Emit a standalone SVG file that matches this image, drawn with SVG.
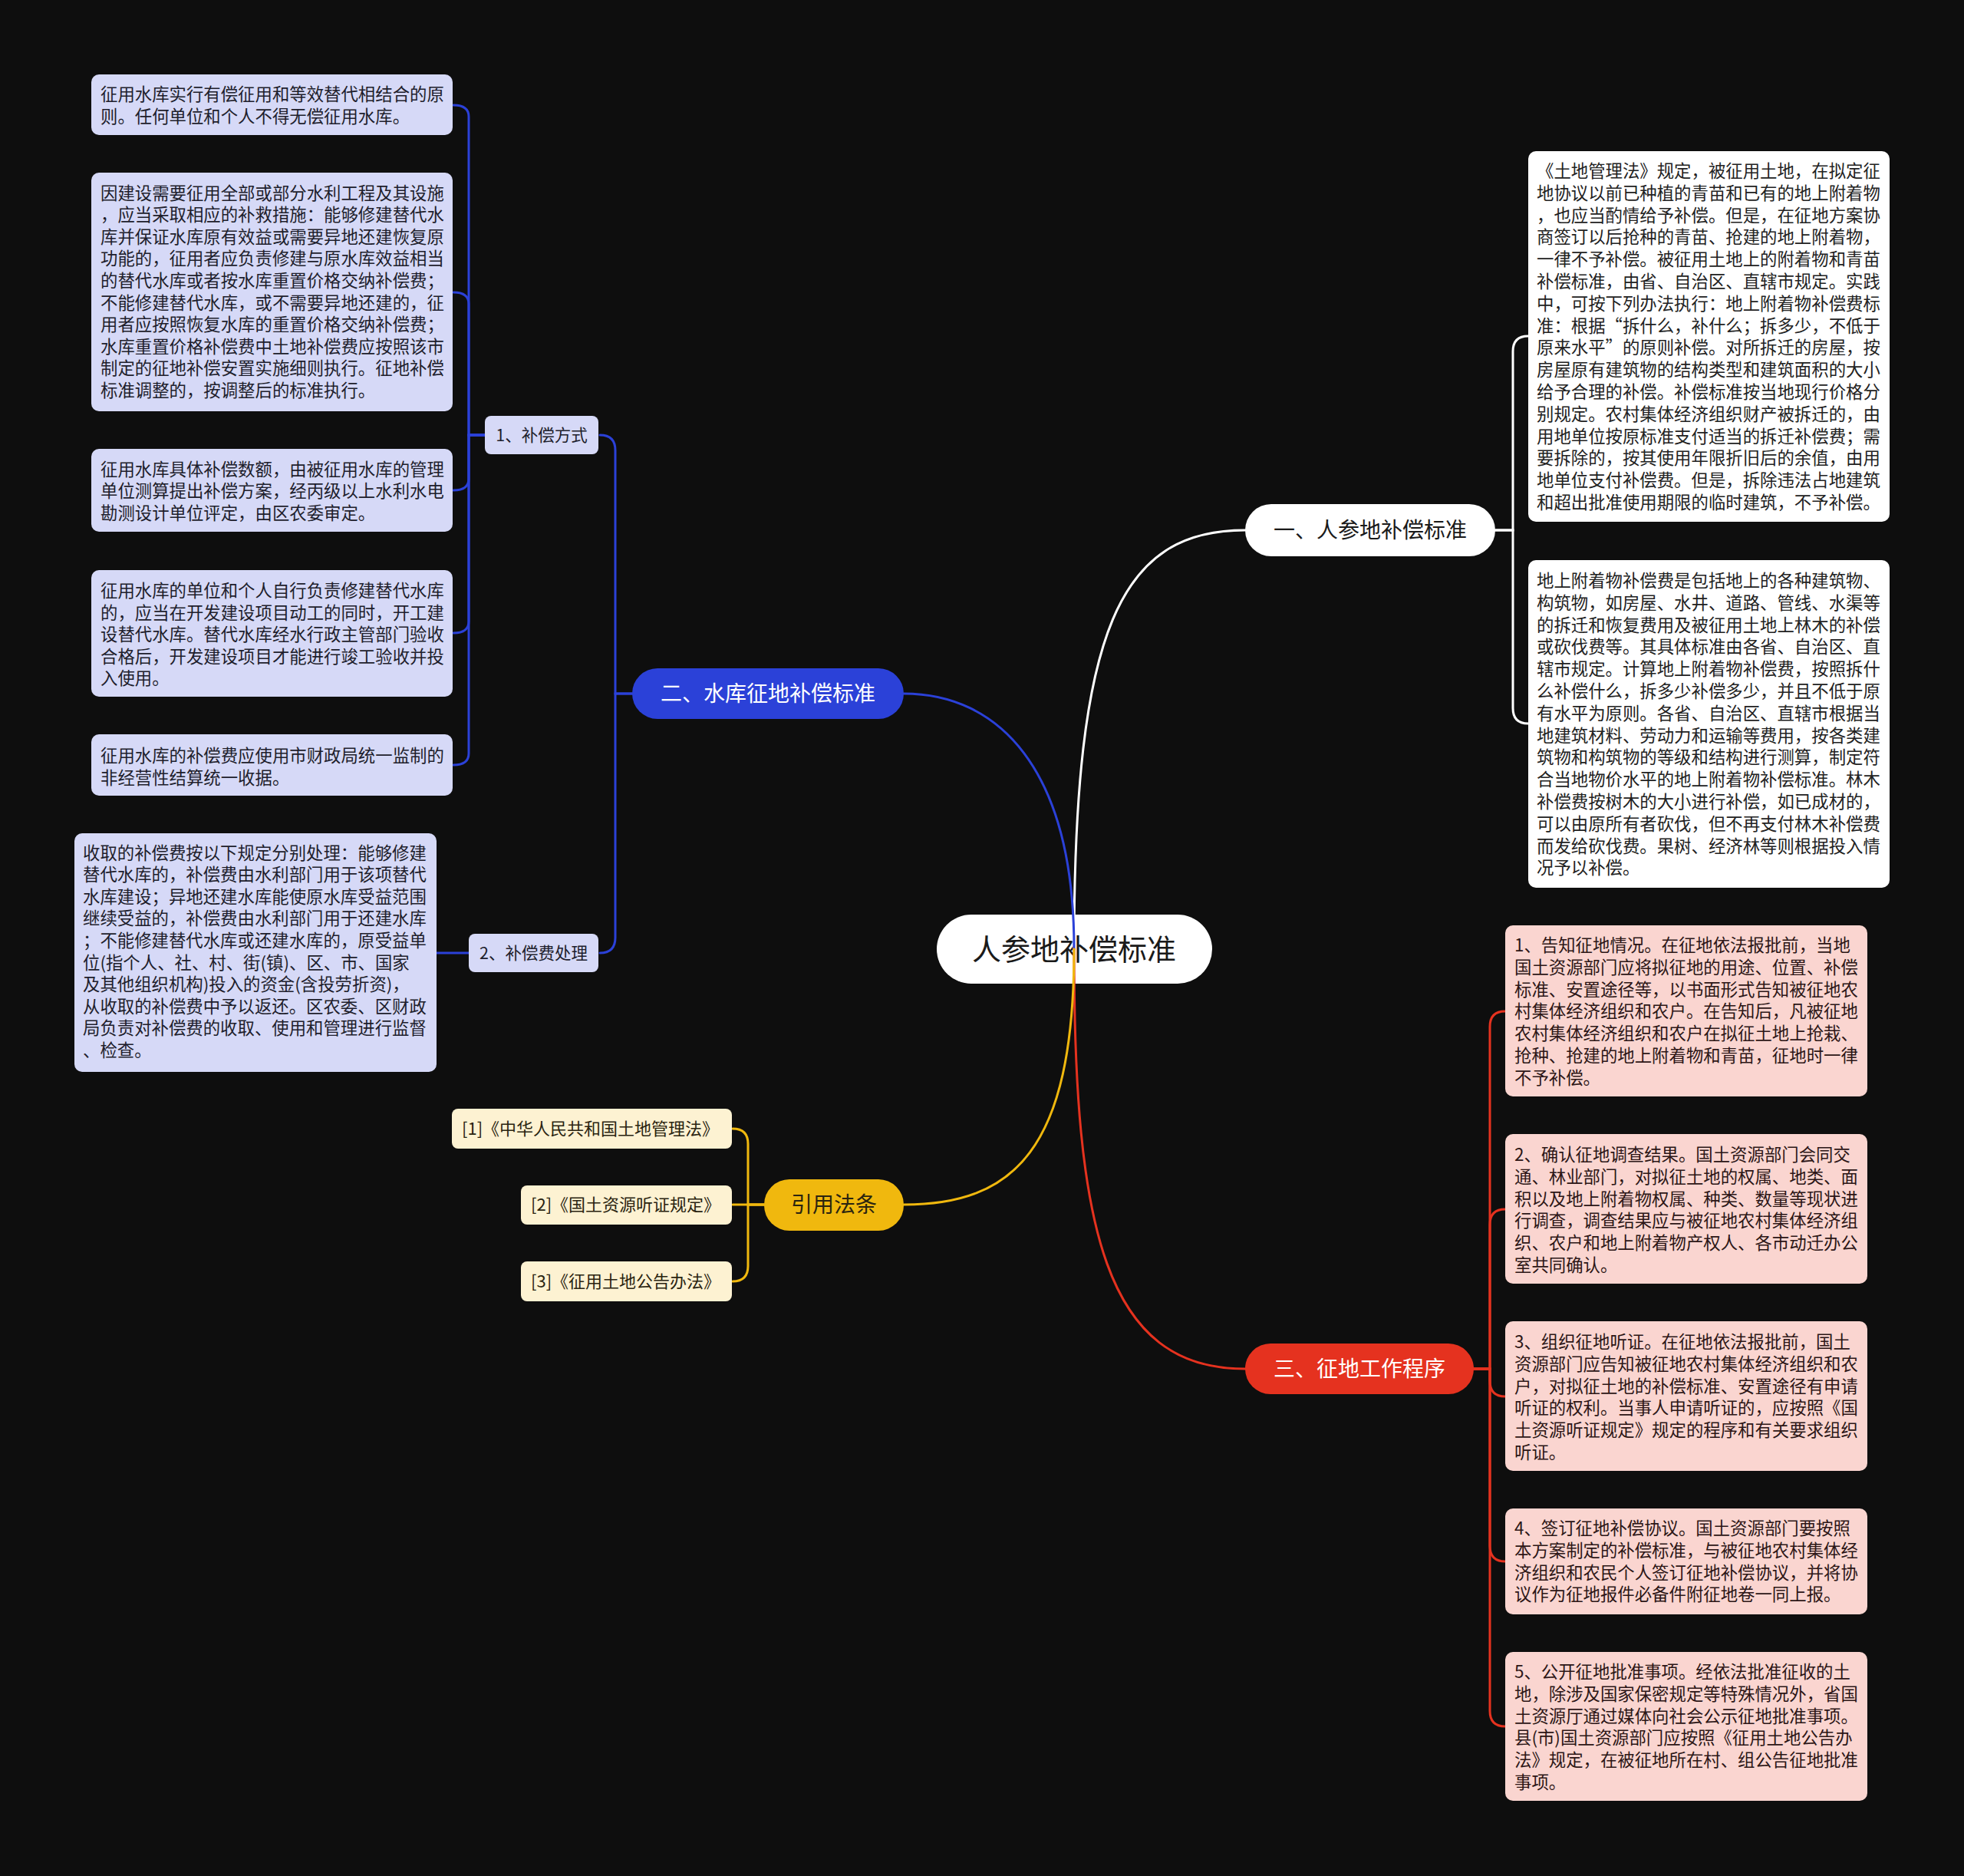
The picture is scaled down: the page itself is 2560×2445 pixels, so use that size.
<svg xmlns="http://www.w3.org/2000/svg" width="2560" height="2445" viewBox="0 0 2560 2445">
<style>
text{font-family:"Noto Sans CJK SC","Noto Sans",sans-serif}
.t{font-size:22.4px}
.lav{fill:#d6d9f7}
.pink{fill:#fad5d0}
.wbox{fill:#ffffff}
.cream{fill:#fdf2d2}
.tl{fill:#1e1e2c}
.tp{fill:#2c1616}
.tw{fill:#222222}
.tc{fill:#2a2410}
.conn{fill:none;stroke-width:3;stroke-linecap:round}
.cw{stroke:#ffffff}
.cb{stroke:#2b41d8}
.cr{stroke:#e5321f}
.cy{stroke:#f0b80e}
.main{font-size:28px;text-anchor:middle}
.sub{font-size:21.5px;text-anchor:middle}
</style>
<rect x="0" y="0" width="2560" height="2445" fill="#0e0e0e"/>

<g id="center">
<rect x="1221" y="1192" width="359" height="90" rx="45" fill="#ffffff"/>
<text x="1400" y="1251" font-size="38" text-anchor="middle" fill="#1a1a1a">人参地补偿标准</text>
</g>

<g id="connectors">
<path class="conn cw" d="M1400,1237 C1400,820 1460,691 1623,691"/>
<path class="conn cb" d="M1400,1237 C1400,1000 1300,904 1178,904"/>
<path class="conn cr" d="M1400,1237 C1400,1600 1440,1784 1623,1784"/>
<path class="conn cy" d="M1400,1237 C1400,1500 1320,1570 1178,1570"/>
<path class="conn cw" d="M1949,691 H1972 V458 Q1972,438 1992,438"/>
<path class="conn cw" d="M1949,691 H1972 V923 Q1972,943 1992,943"/>
<path class="conn cb" d="M824,904 H802 V587 Q802,567 782,567"/>
<path class="conn cb" d="M824,904 H802 V1222 Q802,1242 782,1242"/>
<path class="conn cb" d="M632,567 H611 V152 Q611,137 591,137"/>
<path class="conn cb" d="M632,567 H611 V396 Q611,381 591,381"/>
<path class="conn cb" d="M632,567 H611 V624 Q611,639 591,639"/>
<path class="conn cb" d="M632,567 H611 V810 Q611,825 591,825"/>
<path class="conn cb" d="M632,567 H611 V982 Q611,997 591,997"/>
<path class="conn cb" d="M569,1242 H611"/>
<path class="conn cr" d="M1921,1784 H1942 V1338 Q1942,1318 1962,1318"/>
<path class="conn cr" d="M1921,1784 H1942 V1596 Q1942,1576 1962,1576"/>
<path class="conn cr" d="M1921,1784 H1942 V1800 Q1942,1820 1962,1820"/>
<path class="conn cr" d="M1921,1784 H1942 V2015 Q1942,2035 1962,2035"/>
<path class="conn cr" d="M1921,1784 H1942 V2230 Q1942,2250 1962,2250"/>
<path class="conn cy" d="M996,1570 H975 V1491 Q975,1471 955,1471"/>
<path class="conn cy" d="M996,1570 H955"/>
<path class="conn cy" d="M996,1570 H975 V1650 Q975,1670 955,1670"/>
</g>

<g id="b1">
<rect x="1623" y="657" width="326" height="68" rx="34" fill="#ffffff"/>
<text class="main" x="1786" y="701" fill="#1a1a1a">一、人参地补偿标准</text>
</g>
<g id="b2">
<rect x="824" y="871" width="354" height="66" rx="33" fill="#2b41d8"/>
<text class="main" x="1001" y="914" fill="#ffffff">二、水库征地补偿标准</text>
</g>
<g id="b3">
<rect x="1623" y="1751" width="298" height="66" rx="33" fill="#e5321f"/>
<text class="main" x="1772" y="1794" fill="#ffffff">三、征地工作程序</text>
</g>
<g id="b4">
<rect x="996" y="1537" width="182" height="67" rx="33" fill="#f0b80e"/>
<text class="main" x="1087" y="1580" fill="#2a2410">引用法条</text>
</g>

<g id="b1-1">
<rect class="wbox" x="1992" y="197" width="471" height="483" rx="10"/>
<text class="t tw" x="2003" y="231"><tspan x="2003">《土地管理法》规定，被征用土地，在拟定征</tspan><tspan x="2003" dy="28.8">地协议以前已种植的青苗和已有的地上附着物</tspan><tspan x="2003" dy="28.8">，也应当酌情给予补偿。但是，在征地方案协</tspan><tspan x="2003" dy="28.8">商签订以后抢种的青苗、抢建的地上附着物，</tspan><tspan x="2003" dy="28.8">一律不予补偿。被征用土地上的附着物和青苗</tspan><tspan x="2003" dy="28.8">补偿标准，由省、自治区、直辖市规定。实践</tspan><tspan x="2003" dy="28.8">中，可按下列办法执行：地上附着物补偿费标</tspan><tspan x="2003" dy="28.8">准：根据“拆什么，补什么；拆多少，不低于</tspan><tspan x="2003" dy="28.8">原来水平”的原则补偿。对所拆迁的房屋，按</tspan><tspan x="2003" dy="28.8">房屋原有建筑物的结构类型和建筑面积的大小</tspan><tspan x="2003" dy="28.8">给予合理的补偿。补偿标准按当地现行价格分</tspan><tspan x="2003" dy="28.8">别规定。农村集体经济组织财产被拆迁的，由</tspan><tspan x="2003" dy="28.8">用地单位按原标准支付适当的拆迁补偿费；需</tspan><tspan x="2003" dy="28.8">要拆除的，按其使用年限折旧后的余值，由用</tspan><tspan x="2003" dy="28.8">地单位支付补偿费。但是，拆除违法占地建筑</tspan><tspan x="2003" dy="28.8">和超出批准使用期限的临时建筑，不予补偿。</tspan></text>
</g>
<g id="b1-2">
<rect class="wbox" x="1992" y="730" width="471" height="427" rx="10"/>
<text class="t tw" x="2003" y="765"><tspan x="2003">地上附着物补偿费是包括地上的各种建筑物、</tspan><tspan x="2003" dy="28.8">构筑物，如房屋、水井、道路、管线、水渠等</tspan><tspan x="2003" dy="28.8">的拆迁和恢复费用及被征用土地上林木的补偿</tspan><tspan x="2003" dy="28.8">或砍伐费等。其具体标准由各省、自治区、直</tspan><tspan x="2003" dy="28.8">辖市规定。计算地上附着物补偿费，按照拆什</tspan><tspan x="2003" dy="28.8">么补偿什么，拆多少补偿多少，并且不低于原</tspan><tspan x="2003" dy="28.8">有水平为原则。各省、自治区、直辖市根据当</tspan><tspan x="2003" dy="28.8">地建筑材料、劳动力和运输等费用，按各类建</tspan><tspan x="2003" dy="28.8">筑物和构筑物的等级和结构进行测算，制定符</tspan><tspan x="2003" dy="28.8">合当地物价水平的地上附着物补偿标准。林木</tspan><tspan x="2003" dy="28.8">补偿费按树木的大小进行补偿，如已成材的，</tspan><tspan x="2003" dy="28.8">可以由原所有者砍伐，但不再支付林木补偿费</tspan><tspan x="2003" dy="28.8">而发给砍伐费。果树、经济林等则根据投入情</tspan><tspan x="2003" dy="28.8">况予以补偿。</tspan></text>
</g>

<g id="b2-1">
<rect class="lav" x="632" y="542" width="148" height="50" rx="8"/>
<text class="sub tl" x="706" y="574.5">1、补偿方式</text>
</g>
<g id="b2-2">
<rect class="lav" x="611" y="1217" width="169" height="50" rx="8"/>
<text class="sub tl" x="695.5" y="1249.5">2、补偿费处理</text>
</g>

<g id="b2-1-1">
<rect class="lav" x="119" y="97" width="471" height="79" rx="10"/>
<text class="t tl" x="131" y="131"><tspan x="131">征用水库实行有偿征用和等效替代相结合的原</tspan><tspan x="131" dy="28.8">则。任何单位和个人不得无偿征用水库。</tspan></text>
</g>
<g id="b2-1-2">
<rect class="lav" x="119" y="225" width="471" height="311" rx="10"/>
<text class="t tl" x="131" y="259.5"><tspan x="131">因建设需要征用全部或部分水利工程及其设施</tspan><tspan x="131" dy="28.6">，应当采取相应的补救措施：能够修建替代水</tspan><tspan x="131" dy="28.6">库并保证水库原有效益或需要异地还建恢复原</tspan><tspan x="131" dy="28.6">功能的，征用者应负责修建与原水库效益相当</tspan><tspan x="131" dy="28.6">的替代水库或者按水库重置价格交纳补偿费；</tspan><tspan x="131" dy="28.6">不能修建替代水库，或不需要异地还建的，征</tspan><tspan x="131" dy="28.6">用者应按照恢复水库的重置价格交纳补偿费；</tspan><tspan x="131" dy="28.6">水库重置价格补偿费中土地补偿费应按照该市</tspan><tspan x="131" dy="28.6">制定的征地补偿安置实施细则执行。征地补偿</tspan><tspan x="131" dy="28.6">标准调整的，按调整后的标准执行。</tspan></text>
</g>
<g id="b2-1-3">
<rect class="lav" x="119" y="585" width="471" height="108" rx="10"/>
<text class="t tl" x="131" y="619.5"><tspan x="131">征用水库具体补偿数额，由被征用水库的管理</tspan><tspan x="131" dy="28.6">单位测算提出补偿方案，经丙级以上水利水电</tspan><tspan x="131" dy="28.6">勘测设计单位评定，由区农委审定。</tspan></text>
</g>
<g id="b2-1-4">
<rect class="lav" x="119" y="743" width="471" height="165" rx="10"/>
<text class="t tl" x="131" y="778"><tspan x="131">征用水库的单位和个人自行负责修建替代水库</tspan><tspan x="131" dy="28.6">的，应当在开发建设项目动工的同时，开工建</tspan><tspan x="131" dy="28.6">设替代水库。替代水库经水行政主管部门验收</tspan><tspan x="131" dy="28.6">合格后，开发建设项目才能进行竣工验收并投</tspan><tspan x="131" dy="28.6">入使用。</tspan></text>
</g>
<g id="b2-1-5">
<rect class="lav" x="119" y="957" width="471" height="80" rx="10"/>
<text class="t tl" x="131" y="993"><tspan x="131">征用水库的补偿费应使用市财政局统一监制的</tspan><tspan x="131" dy="28.6">非经营性结算统一收据。</tspan></text>
</g>
<g id="b2-2-1">
<rect class="lav" x="97" y="1086" width="472" height="311" rx="10"/>
<text class="t tl" x="108" y="1119.5"><tspan x="108">收取的补偿费按以下规定分别处理：能够修建</tspan><tspan x="108" dy="28.6">替代水库的，补偿费由水利部门用于该项替代</tspan><tspan x="108" dy="28.6">水库建设；异地还建水库能使原水库受益范围</tspan><tspan x="108" dy="28.6">继续受益的，补偿费由水利部门用于还建水库</tspan><tspan x="108" dy="28.6">；不能修建替代水库或还建水库的，原受益单</tspan><tspan x="108" dy="28.6">位(指个人、社、村、街(镇)、区、市、国家</tspan><tspan x="108" dy="28.6">及其他组织机构)投入的资金(含投劳折资)，</tspan><tspan x="108" dy="28.6">从收取的补偿费中予以返还。区农委、区财政</tspan><tspan x="108" dy="28.6">局负责对补偿费的收取、使用和管理进行监督</tspan><tspan x="108" dy="28.6">、检查。</tspan></text>
</g>

<g id="b3-1">
<rect class="pink" x="1962" y="1206" width="472" height="223" rx="10"/>
<text class="t tp" x="1974" y="1240"><tspan x="1974">1、告知征地情况。在征地依法报批前，当地</tspan><tspan x="1974" dy="28.8">国土资源部门应将拟征地的用途、位置、补偿</tspan><tspan x="1974" dy="28.8">标准、安置途径等，以书面形式告知被征地农</tspan><tspan x="1974" dy="28.8">村集体经济组织和农户。在告知后，凡被征地</tspan><tspan x="1974" dy="28.8">农村集体经济组织和农户在拟征土地上抢栽、</tspan><tspan x="1974" dy="28.8">抢种、抢建的地上附着物和青苗，征地时一律</tspan><tspan x="1974" dy="28.8">不予补偿。</tspan></text>
</g>
<g id="b3-2">
<rect class="pink" x="1962" y="1478" width="472" height="195" rx="10"/>
<text class="t tp" x="1974" y="1513"><tspan x="1974">2、确认征地调查结果。国土资源部门会同交</tspan><tspan x="1974" dy="28.8">通、林业部门，对拟征土地的权属、地类、面</tspan><tspan x="1974" dy="28.8">积以及地上附着物权属、种类、数量等现状进</tspan><tspan x="1974" dy="28.8">行调查，调查结果应与被征地农村集体经济组</tspan><tspan x="1974" dy="28.8">织、农户和地上附着物产权人、各市动迁办公</tspan><tspan x="1974" dy="28.8">室共同确认。</tspan></text>
</g>
<g id="b3-3">
<rect class="pink" x="1962" y="1722" width="472" height="195" rx="10"/>
<text class="t tp" x="1974" y="1757"><tspan x="1974">3、组织征地听证。在征地依法报批前，国土</tspan><tspan x="1974" dy="28.8">资源部门应告知被征地农村集体经济组织和农</tspan><tspan x="1974" dy="28.8">户，对拟征土地的补偿标准、安置途径有申请</tspan><tspan x="1974" dy="28.8">听证的权利。当事人申请听证的，应按照《国</tspan><tspan x="1974" dy="28.8">土资源听证规定》规定的程序和有关要求组织</tspan><tspan x="1974" dy="28.8">听证。</tspan></text>
</g>
<g id="b3-4">
<rect class="pink" x="1962" y="1966" width="472" height="138" rx="10"/>
<text class="t tp" x="1974" y="2000"><tspan x="1974">4、签订征地补偿协议。国土资源部门要按照</tspan><tspan x="1974" dy="28.8">本方案制定的补偿标准，与被征地农村集体经</tspan><tspan x="1974" dy="28.8">济组织和农民个人签订征地补偿协议，并将协</tspan><tspan x="1974" dy="28.8">议作为征地报件必备件附征地卷一同上报。</tspan></text>
</g>
<g id="b3-5">
<rect class="pink" x="1962" y="2153" width="472" height="194" rx="10"/>
<text class="t tp" x="1974" y="2187"><tspan x="1974">5、公开征地批准事项。经依法批准征收的土</tspan><tspan x="1974" dy="28.8">地，除涉及国家保密规定等特殊情况外，省国</tspan><tspan x="1974" dy="28.8">土资源厅通过媒体向社会公示征地批准事项。</tspan><tspan x="1974" dy="28.8">县(市)国土资源部门应按照《征用土地公告办</tspan><tspan x="1974" dy="28.8">法》规定，在被征地所在村、组公告征地批准</tspan><tspan x="1974" dy="28.8">事项。</tspan></text>
</g>

<g id="b4-1">
<rect class="cream" x="589" y="1445" width="365" height="52" rx="8"/>
<text class="tc" x="602" y="1479" font-size="22">[1]《中华人民共和国土地管理法》</text>
</g>
<g id="b4-2">
<rect class="cream" x="679" y="1545" width="275" height="51" rx="8"/>
<text class="tc" x="692" y="1578" font-size="22">[2]《国土资源听证规定》</text>
</g>
<g id="b4-3">
<rect class="cream" x="679" y="1644" width="275" height="52" rx="8"/>
<text class="tc" x="692" y="1678" font-size="22">[3]《征用土地公告办法》</text>
</g>
</svg>
